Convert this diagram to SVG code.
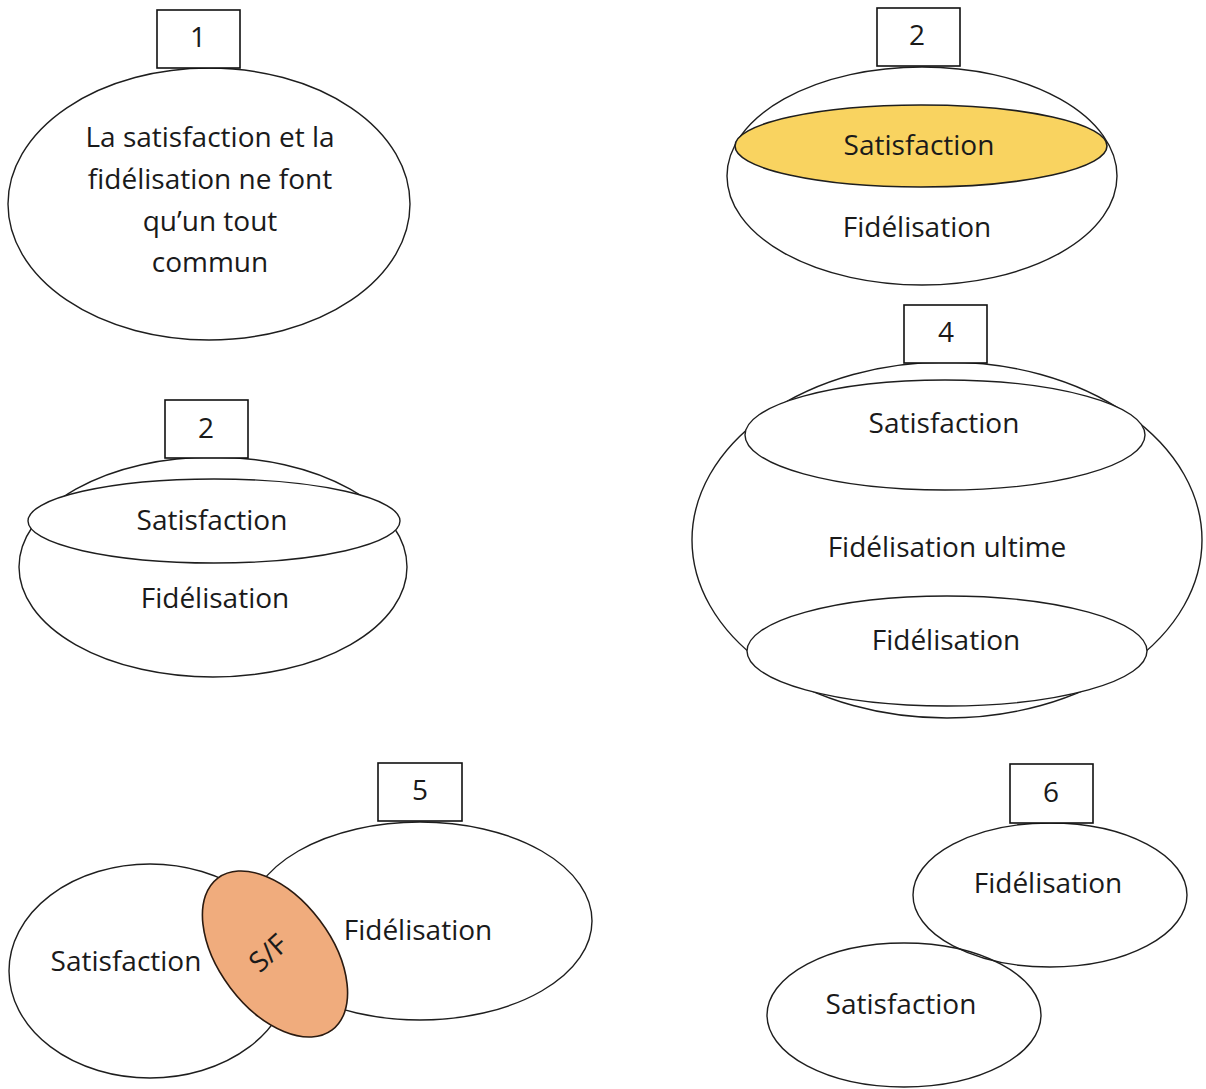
<svg xmlns="http://www.w3.org/2000/svg" width="1206" height="1089" viewBox="0 0 1206 1089">
  <style>
    .shape { fill: #ffffff; stroke: #1e1e1e; stroke-width: 1.4; }
    .tag { fill: #ffffff; stroke: #111111; stroke-width: 1.6; }
    .gold { fill: #f9d360; stroke: #1e1e1e; stroke-width: 1.6; }
    .peach { fill: #f0ac7d; stroke: #2a1a10; stroke-width: 1.6; }
    text { font-family: "Open Sans", "Liberation Sans", sans-serif; font-size: 28px; fill: #1a1a1a; text-anchor: middle; }
  </style>
  <rect width="1206" height="1089" fill="#ffffff"/>

  <!-- 1: single combined set -->
  <g id="node-1">
    <ellipse class="shape" cx="209" cy="204" rx="201" ry="136"/>
    <rect class="tag" x="157" y="10" width="83" height="58"/>
    <text x="198" y="47">1</text>
    <text x="210" y="147">La satisfaction et la</text>
    <text x="210" y="189">fidélisation ne font</text>
    <text x="210" y="231">qu’un tout</text>
    <text x="210" y="272">commun</text>
  </g>

  <!-- 2 (top right): highlighted satisfaction inside fidélisation -->
  <g id="node-2a">
    <ellipse class="shape" cx="922" cy="176" rx="195" ry="109"/>
    <ellipse class="gold" cx="921" cy="146" rx="186" ry="41"/>
    <rect class="tag" x="877" y="8" width="83" height="58"/>
    <text x="917" y="45">2</text>
    <text x="919" y="155">Satisfaction</text>
    <text x="917" y="237">Fidélisation</text>
  </g>

  <!-- 2 (middle left): satisfaction capping fidélisation -->
  <g id="node-2b">
    <ellipse class="shape" cx="213" cy="567" rx="194" ry="110"/>
    <ellipse class="shape" cx="214" cy="521" rx="186" ry="42"/>
    <rect class="tag" x="165" y="400" width="83" height="58"/>
    <text x="206" y="438">2</text>
    <text x="212" y="530">Satisfaction</text>
    <text x="215" y="608">Fidélisation</text>
  </g>

  <!-- 4: ultimate loyalty enclosing both -->
  <g id="node-4">
    <ellipse class="shape" cx="947" cy="540" rx="255" ry="178"/>
    <ellipse class="shape" cx="945" cy="435" rx="200" ry="55"/>
    <ellipse class="shape" cx="947" cy="651" rx="200" ry="55"/>
    <rect class="tag" x="904" y="305" width="83" height="58"/>
    <text x="946" y="342">4</text>
    <text x="944" y="433">Satisfaction</text>
    <text x="947" y="557">Fidélisation ultime</text>
    <text x="946" y="650">Fidélisation</text>
  </g>

  <!-- 5: overlapping sets with shared S/F zone -->
  <g id="node-5">
    <ellipse class="shape" cx="420" cy="921" rx="172" ry="99"/>
    <ellipse class="shape" cx="150" cy="971" rx="141" ry="107"/>
    <ellipse class="peach" cx="275" cy="954" rx="56" ry="95" transform="rotate(-37 275 954)"/>
    <rect class="tag" x="378" y="763" width="84" height="58"/>
    <text x="420" y="800">5</text>
    <text x="126" y="971">Satisfaction</text>
    <text x="418" y="940">Fidélisation</text>
    <text x="268" y="963" transform="rotate(-42 268 953)">S/F</text>
  </g>

  <!-- 6: separate sets just touching -->
  <g id="node-6">
    <ellipse class="shape" cx="1050" cy="895" rx="137" ry="72" style="fill:none"/>
    <ellipse class="shape" cx="904" cy="1015" rx="137" ry="72" style="fill:none"/>
    <rect class="tag" x="1010" y="764" width="83" height="59"/>
    <text x="1051" y="802">6</text>
    <text x="1048" y="893">Fidélisation</text>
    <text x="901" y="1014">Satisfaction</text>
  </g>

  <!-- no connectors in this figure -->
  <g id="connectors"/>
</svg>
